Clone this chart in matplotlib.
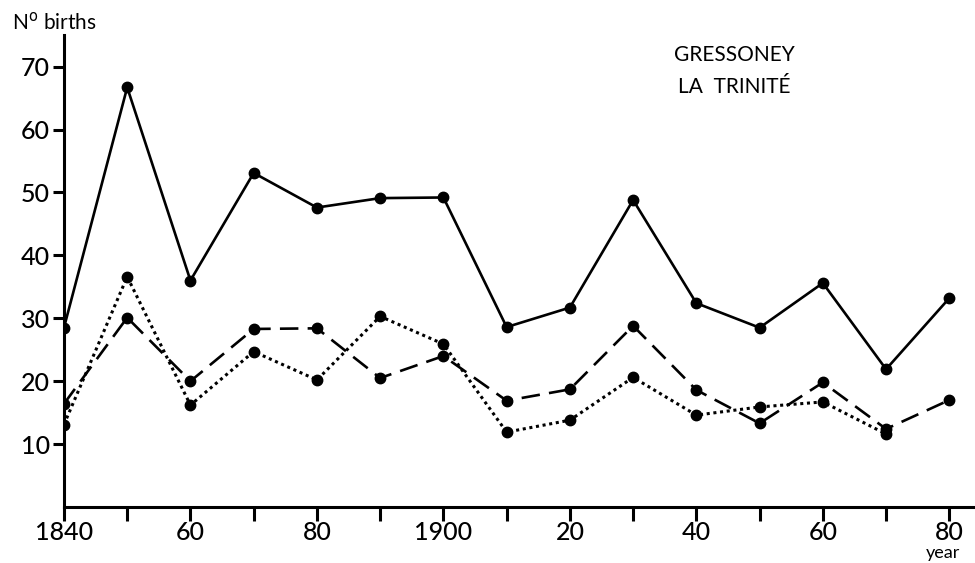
import matplotlib.pyplot as plt

# data
tahun = [1840, 1850, 1860, 1870, 1880, 1890, 1900, 1910, 1920, 1930, 1940, 1950, 1960, 1970, 1980]
total = [28.5, 66.7, 36.0, 53.1, 47.6, 49.1, 49.2, 28.6, 31.7, 48.8, 32.4, 28.5, 35.6, 21.9, 33.2]
garis_putus = [16.4, 30.1, 20.0, 28.3, 28.4, 20.5, 24.0, 16.9, 18.7, 28.8, 18.6, 13.3, 19.8, 12.4, 17.0]
tahun_titik = tahun[:14]
garis_titik = [13.1, 36.6, 16.2, 24.7, 20.2, 30.3, 25.9, 11.9, 13.8, 20.6, 14.6, 15.9, 16.7, 11.6]

xtick_pos = list(range(1840, 1990, 10))
xtick_lbl = ['1840', '', '60', '', '80', '', '1900', '', '20', '', '40', '', '60', '', '80']
ytick_pos = [10, 20, 30, 40, 50, 60, 70]

plt.rcParams['font.family'] = ['Lato', 'DejaVu Sans']

fig = plt.figure(figsize=(9.75, 5.63), dpi=100)
ax = fig.add_axes([0.0656, 0.0995, 0.934, 0.838])

ax.plot(tahun, total, color='black', lw=1.9, marker='o', ms=7.5)
ax.plot(tahun, garis_putus, color='black', lw=1.9, marker='o', ms=7.5, dashes=(7, 3.5))
ax.plot(tahun_titik, garis_titik, color='black', lw=2.2, marker='o', ms=7.5, dashes=(1, 1.2))

ax.set_xlim(1840, 1984)
ax.set_ylim(0, 75)
ax.spines['top'].set_visible(False)
ax.spines['right'].set_visible(False)
ax.spines['left'].set_linewidth(2.2)
ax.spines['bottom'].set_linewidth(2.2)

ax.set_xticks(xtick_pos)
ax.set_xticklabels(xtick_lbl, fontsize=18, fontweight='medium')
ax.set_yticks(ytick_pos)
ax.set_yticklabels([str(v) for v in ytick_pos], fontsize=18, fontweight='medium')
ax.tick_params(axis='x', direction='out', length=10, width=2.2, pad=0)
ax.tick_params(axis='y', direction='out', length=8, width=2.2, pad=2)

fig.text(0.012, 0.961, 'N$^{\\mathrm{o}}$ births', fontsize=15, va='center', ha='left')
fig.text(0.967, 0.018, 'year', fontsize=13, va='center', ha='center')
fig.text(0.753, 0.902, 'GRESSONEY', fontsize=15, ha='center', va='center')
fig.text(0.753, 0.845, 'LA  TRINITÉ', fontsize=15, ha='center', va='center')

plt.savefig('out.png', dpi=100)
